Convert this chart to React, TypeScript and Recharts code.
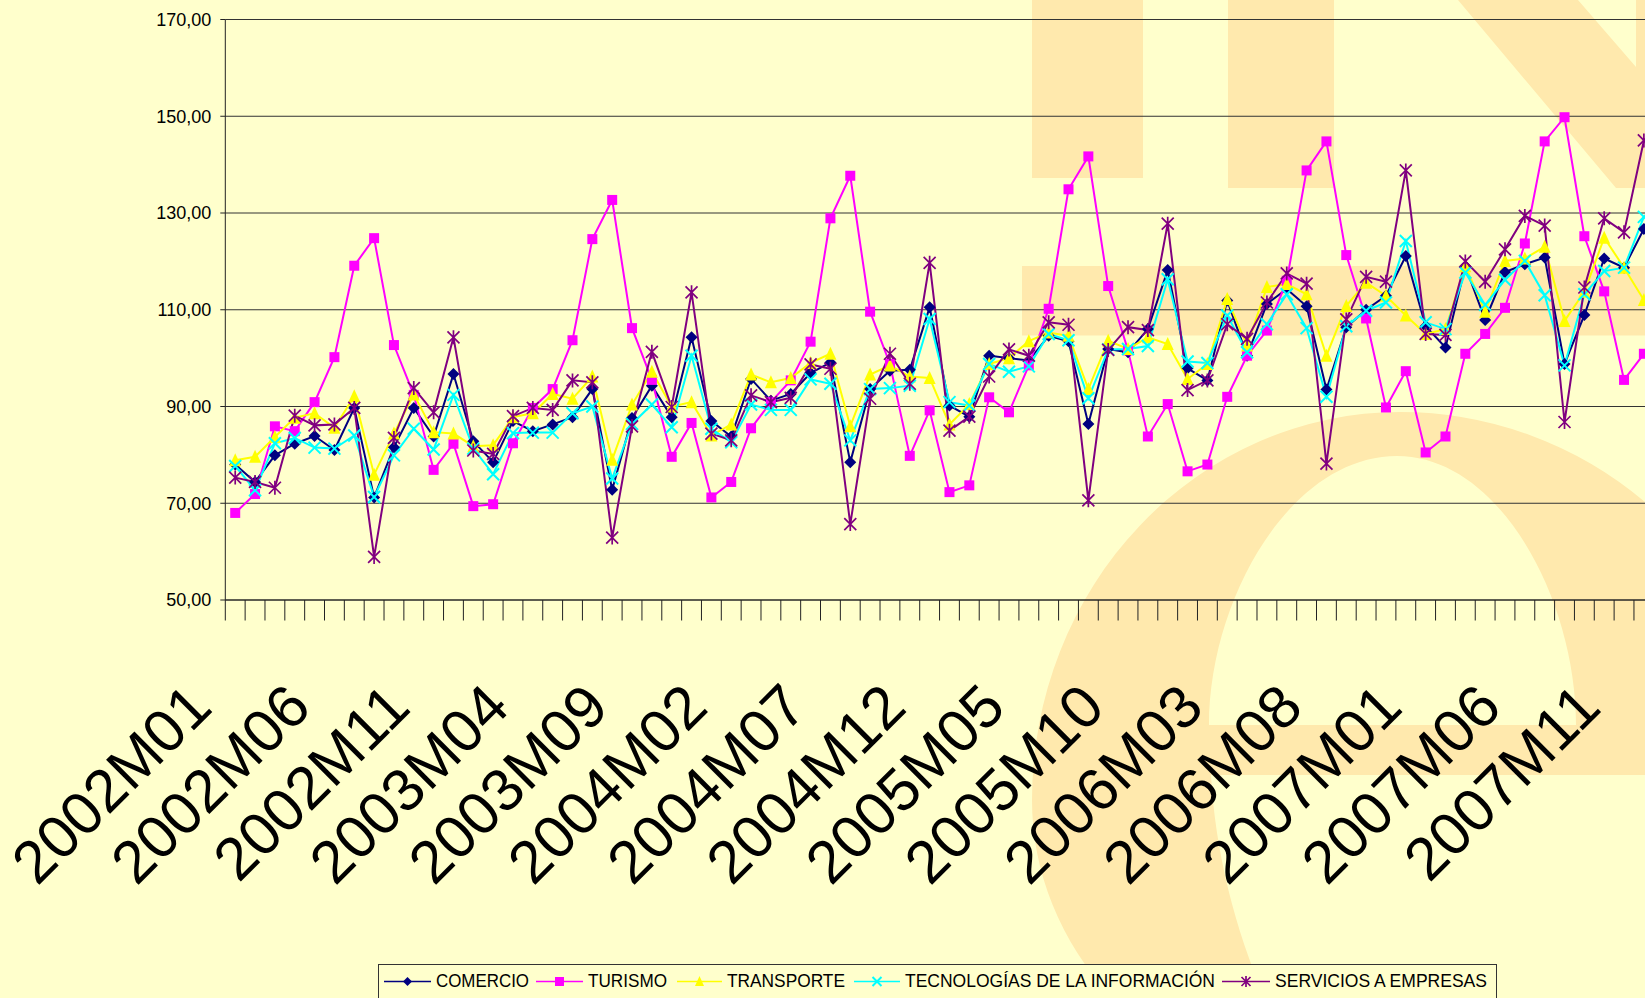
import { CartesianGrid, Legend, Line, LineChart, XAxis, YAxis } from "recharts";

const years = [2002, 2003, 2004, 2005, 2006, 2007];
const months = ["01", "02", "03", "04", "05", "06", "07", "08", "09", "10", "11", "12"];
const periods = years.flatMap((year) => months.map((month) => `${year}M${month}`));
const yTicks = [50, 70, 90, 110, 130, 150, 170];

const comercio = [
  78, 74.4, 79.9, 82.3, 83.9, 81, 89.7, 71.2, 81.6, 89.7, 83.8, 96.7,
  82.8, 78.5, 87, 84.9, 86.3, 87.8, 93.6, 72.8, 87.6, 94.3, 87.8, 104.3,
  87, 83.8, 95.7, 91.2, 92.6, 96.9, 99.1, 78.5, 93.6, 97.4, 97.6, 110.5,
  90.2, 87.9, 100.5, 100, 99.5, 104.6, 103.5, 86.4, 101.9, 101.2, 106, 118.2,
  97.9, 95.4, 111.9, 100.5, 111.2, 114.3, 110.7, 93.5, 106.4, 110, 112.9, 121.1,
  106.6, 102.2, 119, 107.9, 117.8, 119.4, 120.8, 98.8, 108.9, 120.6, 118.7, 126.7
];

const turismo = [
  68, 71.9, 85.9, 84.9, 90.9, 100.2, 119.1, 124.8, 102.7, 92.4, 76.9, 82.3,
  69.4, 69.8, 82.4, 89.7, 93.6, 103.7, 124.6, 132.7, 106.2, 95.5, 79.6, 86.6,
  71.2, 74.4, 85.5, 90.9, 95.4, 103.4, 128.9, 137.7, 109.6, 98.8, 79.8, 89.2,
  72.3, 73.7, 91.9, 88.8, 98.5, 110.2, 134.9, 141.7, 114.9, 101.6, 83.8, 90.5,
  76.6, 78, 92, 100.5, 105.7, 116, 138.8, 144.8, 121.3, 108.2, 89.8, 97.3,
  80.5, 83.8, 100.9, 105, 110.4, 123.7, 144.8, 149.8, 125.2, 113.8, 95.5, 100.9
];

const transporte = [
  78.9, 79.6, 83.7, 87.7, 88.6, 85.6, 92.1, 75.9, 84.4, 92.5, 84.7, 84.4,
  81.8, 82, 87.8, 88.6, 92.6, 91.6, 96.2, 79, 90.4, 97.2, 90, 90.9,
  84, 86.3, 96.6, 95, 95.9, 99, 100.9, 85.9, 96.6, 98.5, 96.2, 95.9,
  86.3, 90.5, 98.8, 100, 103.5, 105.3, 104.6, 93.6, 103.6, 101.9, 104.3, 102.9,
  95.7, 98.8, 112.2, 102.6, 114.7, 115.3, 113.2, 100.5, 110.8, 115.6, 112.9, 108.8,
  105, 106, 119, 109.6, 120.1, 120.6, 123, 107.7, 113.7, 124.9, 118.7, 112
];

const tecnologias = [
  77.7, 72.7, 82.4, 83.5, 81.5, 81.3, 84, 71.3, 79.9, 85.4, 81.1, 92.4,
  81.3, 76, 84.5, 84.6, 84.6, 88.6, 90, 75.1, 86.4, 90.4, 85.7, 100.5,
  85.4, 82.6, 90.4, 89.3, 89.3, 95.6, 94.7, 83, 93.6, 93.8, 94.3, 108.1,
  90.9, 90.2, 98.8, 97.2, 98.3, 105, 103.7, 91.7, 101.8, 101.9, 102.5, 116.3,
  99.3, 99, 108.8, 101.2, 107, 113.2, 106.2, 92, 106.6, 109.8, 111.5, 124.2,
  107.4, 106, 117.7, 111, 116.2, 120.1, 113, 98.5, 113.2, 118, 118.7, 129.2
];

const servicios = [
  75.3, 74.4, 73.2, 88.1, 86.1, 86.3, 89.7, 58.9, 83.5, 93.8, 88.8, 104.3,
  80.9, 80.2, 88, 89.7, 89.3, 95.4, 95, 62.9, 85.9, 101.3, 89.9, 113.6,
  84.4, 83, 92.3, 90.9, 91.8, 98.7, 97.8, 65.7, 91.6, 100.9, 94.7, 119.7,
  85, 87.9, 96.2, 101.8, 100.5, 107.4, 106.9, 70.6, 101.7, 106.4, 105.8, 127.8,
  93.4, 95.4, 107, 104, 111.5, 117.5, 115.4, 78.2, 108, 116.8, 115.8, 138.8,
  105, 104.8, 120, 115.8, 122.5, 129.4, 127.4, 86.8, 114.6, 128.9, 126, 145
];

const chartData = periods.map((period, i) => ({
  period,
  comercio: comercio[i],
  turismo: turismo[i],
  transporte: transporte[i],
  tecnologias: tecnologias[i],
  servicios: servicios[i]
}));

const BAND = 19.84;
const FONT = "'Liberation Sans', Arial, sans-serif";

function diamond(cx: number, cy: number, color: string, r = 6) {
  return <path d={`M${cx} ${cy - r}L${cx + r} ${cy}L${cx} ${cy + r}L${cx - r} ${cy}Z`} fill={color} />;
}

function square(cx: number, cy: number, color: string, r = 5) {
  return <rect x={cx - r} y={cy - r} width={r * 2} height={r * 2} fill={color} />;
}

function triangle(cx: number, cy: number, color: string, r = 6) {
  return <path d={`M${cx} ${cy - r - 1}L${cx + r} ${cy + r}L${cx - r} ${cy + r}Z`} fill={color} />;
}

function cross(cx: number, cy: number, color: string, r = 6) {
  return (
    <path
      d={`M${cx - r} ${cy - r}L${cx + r} ${cy + r}M${cx - r} ${cy + r}L${cx + r} ${cy - r}`}
      stroke={color}
      strokeWidth={2}
      fill="none"
    />
  );
}

function star(cx: number, cy: number, color: string, r = 6) {
  return (
    <path
      d={`M${cx - r} ${cy - r}L${cx + r} ${cy + r}M${cx - r} ${cy + r}L${cx + r} ${cy - r}M${cx} ${cy - r - 1}L${cx} ${cy + r + 1}`}
      stroke={color}
      strokeWidth={1.7}
      fill="none"
    />
  );
}

const markers: Record<string, (cx: number, cy: number, color: string, r?: number) => JSX.Element> = {
  comercio: diamond,
  turismo: square,
  transporte: triangle,
  tecnologias: cross,
  servicios: star
};

function dotFor(key: string, color: string) {
  return (props: any) => {
    if (props.cx == null || props.cy == null) return <g key={props.key} />;
    return <g key={props.key}>{markers[key](props.cx, props.cy, color)}</g>;
  };
}

function PeriodTick({ x, y, index, payload }: any) {
  const labelX = x - 21;
  const labelY = y + 110;
  return (
    <g>
      <line x1={x - BAND / 2} x2={x - BAND / 2} y1={y} y2={y + 20.5} stroke="#222" strokeWidth={1} />
      {index % 5 === 0 && (
        <text
          x={labelX}
          y={labelY}
          transform={`rotate(-45 ${labelX} ${labelY})`}
          textAnchor="end"
          fontSize={60}
          fontFamily={FONT}
          fill="#000"
        >
          {payload.value}
        </text>
      )}
    </g>
  );
}

const legendSlots: Record<string, { line: [number, number]; text: [number, number] }> = {
  comercio: { line: [384, 431], text: [436, 529] },
  turismo: { line: [536, 583], text: [588, 667] },
  transporte: { line: [677, 722], text: [727, 845] },
  tecnologias: { line: [854, 900], text: [905, 1215] },
  servicios: { line: [1222, 1270], text: [1275, 1487] }
};

function ChartLegend({ payload }: any) {
  const left = 378;
  return (
    <svg width={1120} height={34} style={{ display: "block" }}>
      <rect x={0.5} y={0.5} width={1118} height={60} fill="#FFFFCC" stroke="#333" />
      {(payload ?? []).map((item: any) => {
        const slot = legendSlots[item.dataKey];
        const mid = (slot.line[0] + slot.line[1]) / 2 - left;
        return (
          <g key={item.dataKey}>
            <line x1={slot.line[0] - left} x2={slot.line[1] - left} y1={17.5} y2={17.5} stroke={item.color} strokeWidth={1.5} />
            {markers[item.dataKey](mid, 17.5, item.color, 4.5)}
            <text
              x={slot.text[0] - left}
              y={22.5}
              fontSize={19}
              fontFamily={FONT}
              fill="#000"
              textLength={slot.text[1] - slot.text[0]}
              lengthAdjust="spacingAndGlyphs"
            >
              {item.value}
            </text>
          </g>
        );
      })}
    </svg>
  );
}

// logo behind the plot
function Watermark() {
  const tan = "#FFE9AD";
  return (
    <svg width={1645} height={998} style={{ position: "absolute", left: 0, top: 0 }}>
      <rect x={1032} y={0} width={111} height={178} fill={tan} />
      <rect x={1228} y={0} width={106} height={188} fill={tan} />
      <path d="M1458 0L1578 0L1636 67L1636 0L1645 0L1645 188L1616 188Z" fill={tan} />
      <rect x={1022} y={266} width={623} height={69.5} fill={tan} />
      <path
        fillRule="evenodd"
        fill={tan}
        d="M1112 998A368 318 0 0 1 1032 800A368 388 0 0 1 1400 412A383 388 0 0 1 1645 502L1645 775L1211 775C1215 850 1235 930 1265 998Z
           M1209 725C1209 600 1290 456 1397 456C1500 456 1576 600 1576 725Z"
      />
    </svg>
  );
}

export default function App() {
  return (
    <div style={{ position: "absolute", left: 0, top: 0, width: 1645, height: 998, overflow: "hidden", background: "#FFFFCC" }}>
      <Watermark />
      <div style={{ position: "absolute", left: 0, top: 0 }}>
        <LineChart
          width={1700}
          height={998}
          data={chartData}
          margin={{ top: 19.5, right: 46.2, bottom: 0, left: 0 }}
          style={{ fontFamily: FONT }}
        >
          <CartesianGrid horizontal vertical={false} stroke="#333" strokeWidth={1} />
          <XAxis
            dataKey="period"
            scale="band"
            interval={0}
            height={398}
            tickLine={false}
            tickSize={0}
            tickMargin={0}
            stroke="#222"
            tick={<PeriodTick />}
          />
          <YAxis
            width={225.3}
            domain={[50, 170]}
            ticks={yTicks}
            tickSize={5}
            tickMargin={9}
            stroke="#222"
            tick={{ fill: "#000", fontSize: 18 }}
            tickFormatter={(v: number) => v.toFixed(2).replace(".", ",")}
          />
          <Legend
            layout="horizontal"
            verticalAlign="middle"
            align="center"
            wrapperStyle={{ left: 378, top: 964, width: 1120, height: 34 }}
            content={<ChartLegend />}
          />
          <Line dataKey="comercio" name="COMERCIO" stroke="#000080" strokeWidth={2} dot={dotFor("comercio", "#000080")} isAnimationActive={false} />
          <Line dataKey="turismo" name="TURISMO" stroke="#FF00FF" strokeWidth={2} dot={dotFor("turismo", "#FF00FF")} isAnimationActive={false} />
          <Line dataKey="transporte" name="TRANSPORTE" stroke="#FFFF00" strokeWidth={2} dot={dotFor("transporte", "#FFFF00")} isAnimationActive={false} />
          <Line dataKey="tecnologias" name="TECNOLOGÍAS DE LA INFORMACIÓN" stroke="#00FFFF" strokeWidth={2} dot={dotFor("tecnologias", "#00FFFF")} isAnimationActive={false} />
          <Line dataKey="servicios" name="SERVICIOS A EMPRESAS" stroke="#800080" strokeWidth={2} dot={dotFor("servicios", "#800080")} isAnimationActive={false} />
        </LineChart>
      </div>
    </div>
  );
}
